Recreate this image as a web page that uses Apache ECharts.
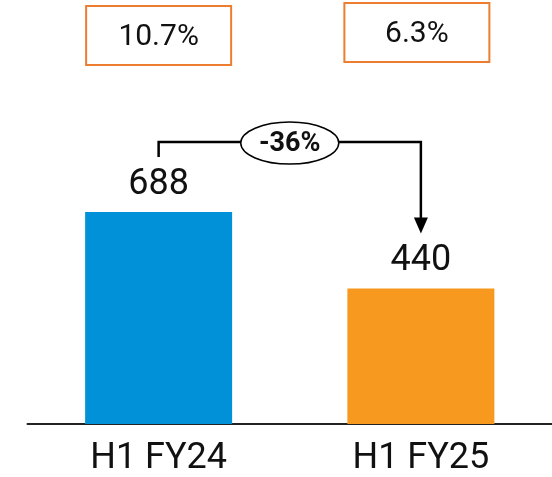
<!DOCTYPE html>
<html>
<head>
<meta charset="utf-8">
<script src="https://cdn.jsdelivr.net/npm/echarts@6/dist/echarts.min.js"></script>
<style>
html,body{margin:0;padding:0;background:#fff;}
#main{width:552px;height:477px;}
</style>
</head>
<body>
<div id="main"></div>
<script>
const categories = ['H1 FY24', 'H1 FY25'];
const values = [688, 440];
const barColors = ['#0091D8', '#F7991F'];
const margins = ['10.7%', '6.3%'];
const changeLabel = '-36%';

const chart = echarts.init(document.getElementById('main'));
const FONT = 'Roboto';

chart.setOption({
  animation: false,
  grid: { left: 27.5, width: 529, top: 116, height: 308 },
  xAxis: {
    type: 'category',
    data: categories,
    axisLine: { lineStyle: { color: '#222', width: 2 } },
    axisTick: { show: false },
    axisLabel: { fontSize: 36, color: '#111', fontFamily: FONT, margin: 17 }
  },
  yAxis: { type: 'value', min: 0, max: 1000, show: false },
  series: [{
    type: 'bar',
    barWidth: 147,
    data: values.map((v, i) => ({ value: v, itemStyle: { color: barColors[i] } })),
    label: { show: true, position: 'top', distance: 9, fontSize: 36, color: '#111', fontFamily: FONT }
  }]
});

const p0 = chart.convertToPixel({ seriesIndex: 0 }, [0, values[0]]);
const p1 = chart.convertToPixel({ seriesIndex: 0 }, [1, values[1]]);
const x0 = p0[0], x1 = p1[0];
const yStart = p0[1] - 55, yEnd = p1[1] - 55, yTop = p0[1] - 70;
const midX = x0 + (x1 - x0) / 2;

const boxTops = [6, 3];
const boxShift = [0, -4];
const graphics = [];
margins.forEach((m, i) => {
  const cx = (i === 0 ? x0 : x1) + boxShift[i];
  graphics.push({
    type: 'rect',
    shape: { x: cx - 72.5, y: boxTops[i], width: 145, height: 59 },
    style: { fill: '#fff', stroke: '#ED7D31', lineWidth: 2 }
  });
  graphics.push({
    type: 'text',
    x: cx, y: boxTops[i] + 31,
    style: { text: m, fontSize: 30, fontFamily: FONT, fill: '#111', align: 'center', verticalAlign: 'middle' }
  });
});
graphics.push({
  type: 'polyline',
  shape: { points: [[x0, yStart], [x0, yTop], [x1, yTop], [x1, yEnd - 14]] },
  style: { stroke: '#000', lineWidth: 2.5, fill: null }
});
graphics.push({
  type: 'polygon',
  shape: { points: [[x1 - 7, yEnd - 16], [x1 + 7, yEnd - 16], [x1, yEnd]] },
  style: { fill: '#000' }
});
graphics.push({
  type: 'ellipse',
  shape: { cx: midX, cy: yTop + 1, rx: 49, ry: 21 },
  style: { fill: '#fff', stroke: '#000', lineWidth: 1.5 }
});
graphics.push({
  type: 'text',
  x: midX, y: yTop + 2,
  style: { text: changeLabel, fontSize: 27, fontWeight: 'bold', fontFamily: FONT, fill: '#111', align: 'center', verticalAlign: 'middle' }
});
chart.setOption({ graphic: graphics });
</script>
</body>
</html>
